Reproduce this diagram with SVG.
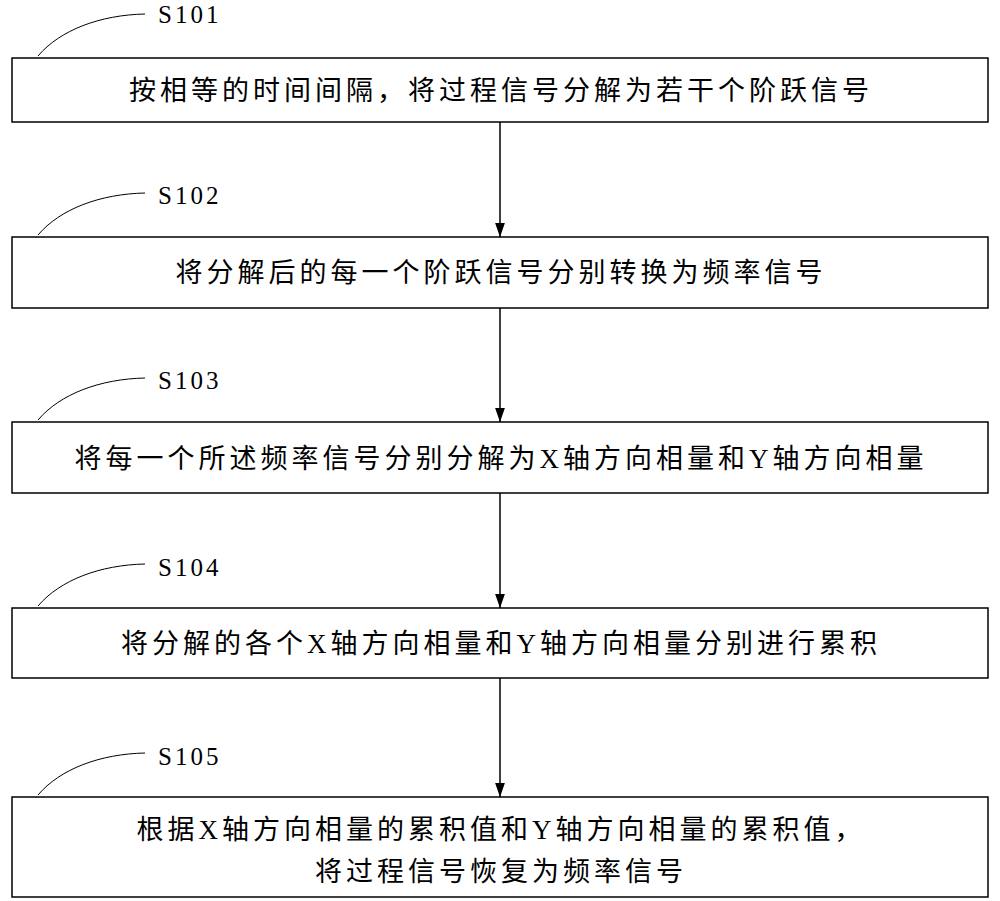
<svg xmlns="http://www.w3.org/2000/svg" width="1000" height="901" viewBox="0 0 1000 901">
<defs>
<style>
.box{fill:#fff;stroke:#000;stroke-width:1.5}
.t{font-family:"Liberation Serif","Noto Sans CJK SC",serif;font-size:27px;letter-spacing:4px;text-anchor:middle;fill:#000}
.s{font-family:"Liberation Serif","Noto Sans CJK SC",serif;font-size:25px;letter-spacing:3px;fill:#000}
.c{fill:none;stroke:#000;stroke-width:1}
</style>
<marker id="ah" markerWidth="14" markerHeight="20" refX="20" refY="7" orient="auto" markerUnits="userSpaceOnUse" viewBox="0 0 20 14"><path d="M0,0 L20,7 L0,14 Z" fill="#000"/></marker>
</defs>
<g id="connectors">
<line x1="500" y1="122" x2="500" y2="237" stroke="#000" stroke-width="1.5" marker-end="url(#ah)"/>
<line x1="500" y1="308" x2="500" y2="422" stroke="#000" stroke-width="1.5" marker-end="url(#ah)"/>
<line x1="500" y1="493" x2="500" y2="608" stroke="#000" stroke-width="1.5" marker-end="url(#ah)"/>
<line x1="500" y1="678" x2="500" y2="797" stroke="#000" stroke-width="1.5" marker-end="url(#ah)"/>
</g>
<g id="n1"><rect class="box" x="12" y="58" width="976" height="64"/><text class="t" x="501" y="100">按相等的时间间隔，将过程信号分解为若干个阶跃信号</text>
<path class="c" d="M38,56 C60,30 100,15 145,14"/><text class="s" x="158" y="23">S101</text></g>
<g id="n2"><rect class="box" x="12" y="237" width="976" height="71"/><text class="t" x="501" y="282">将分解后的每一个阶跃信号分别转换为频率信号</text>
<path class="c" d="M38,235 C60,209 100,194 145,193"/><text class="s" x="158" y="204">S102</text></g>
<g id="n3"><rect class="box" x="12" y="422" width="976" height="71"/><text class="t" x="501" y="468">将每一个所述频率信号分别分解为X轴方向相量和Y轴方向相量</text>
<path class="c" d="M38,420 C60,394 100,379 145,378"/><text class="s" x="158" y="389">S103</text></g>
<g id="n4"><rect class="box" x="12" y="608" width="976" height="70"/><text class="t" x="501" y="653">将分解的各个X轴方向相量和Y轴方向相量分别进行累积</text>
<path class="c" d="M38,606 C60,580 100,565 145,564"/><text class="s" x="158" y="576">S104</text></g>
<g id="n5"><rect class="box" x="12" y="797" width="976" height="100"/><text class="t" x="501" y="839">根据X轴方向相量的累积值和Y轴方向相量的累积值，</text><text class="t" x="501" y="881">将过程信号恢复为频率信号</text>
<path class="c" d="M38,795 C60,769 100,754 145,753"/><text class="s" x="158" y="765">S105</text></g>
</svg>
